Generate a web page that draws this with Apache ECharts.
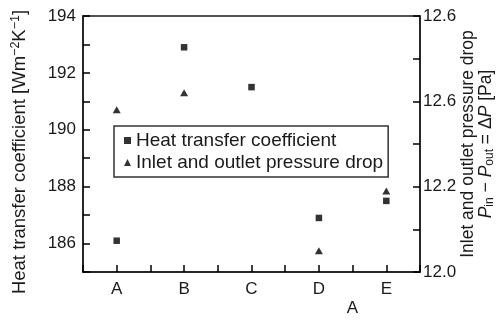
<!DOCTYPE html>
<html>
<head>
<meta charset="utf-8">
<script src="https://cdn.jsdelivr.net/npm/echarts@6/dist/echarts.min.js"></script>
<style>
  html, body { margin: 0; padding: 0; background: #fff; }
  #chart { width: 497px; height: 320px; }
</style>
</head>
<body>
<div id="chart"></div>
<script>
// Samples along the x axis
const categories = ['A', 'B', 'C', 'D', 'E'];
// Heat transfer coefficient, W m^-2 K^-1 (left axis)
const heatTransfer = [186.1, 192.9, 191.5, 186.9, 187.5];
// Inlet/outlet pressure drop, Pa (right axis); no value at C
const pressureDrop = [12.38, 12.42, null, 12.05, 12.19];
// Right-axis tick labels, one per 0.2 Pa step
const rightTickLabels = ['12.0', '12.2', '12.6', '12.6'];

const FONT = '"Liberation Sans", Arial, sans-serif';
const INK = '#1a1a1a';

const chart = echarts.init(document.getElementById('chart'), null, { renderer: 'canvas' });

// x positions are 1..5 on a value axis so ticks can sit both on and between samples
const heatData = heatTransfer.map((v, i) => [i + 1, v]);
const dropData = pressureDrop.map((v, i) => [i + 1, v]);

const axisLineStyle = () => ({ lineStyle: { color: INK, width: 1.5 } });
const tickStyle = () => ({ show: true, inside: true, length: 7, lineStyle: { color: '#000', width: 1.5 } });

chart.setOption({
  animation: false,
  backgroundColor: '#fff',
  textStyle: { fontFamily: FONT },
  grid: {
    left: 83, right: 77, top: 16, bottom: 48,
    containLabel: false,
    outerBoundsMode: 'none',
    show: true, borderColor: INK, borderWidth: 1.5, backgroundColor: 'transparent'
  },
  legend: {
    orient: 'vertical',
    left: 114, top: 126,
    padding: [5, 5, 5, 10],
    itemGap: 3,
    itemWidth: 7, itemHeight: 7,
    borderColor: '#333', borderWidth: 1.5,
    textStyle: { fontFamily: FONT, fontSize: 19, color: INK },
    data: [
      { name: 'Heat transfer coefficient', icon: 'rect' },
      { name: 'Inlet and outlet pressure drop', icon: 'triangle' }
    ]
  },
  xAxis: {
    type: 'value',
    min: 0.5, max: 5.5, interval: 0.5,
    name: 'A',
    nameLocation: 'middle',
    nameGap: 28,
    nameMoveOverlap: false,
    nameTextStyle: { fontFamily: FONT, fontSize: 17, color: INK, padding: [0, 0, 0, 202] },
    axisLine: axisLineStyle(),
    axisTick: tickStyle(),
    splitLine: { show: false },
    axisLabel: {
      fontFamily: FONT, fontSize: 17, color: INK, margin: 9,
      formatter: v => (Number.isInteger(v) ? categories[v - 1] : '')
    }
  },
  yAxis: [
    {
      type: 'value',
      position: 'left',
      min: 185, max: 194, interval: 1,
      name: '{t|Heat transfer coefficient [Wm}{sup|−2}{t|K}{sup|−1}{t|]}',
      nameLocation: 'middle',
      nameGap: 52,
      nameRotate: 90,
      nameMoveOverlap: false,
      nameTextStyle: {
        padding: [0, 16, 0, 0],
        rich: {
          t: { fontFamily: FONT, fontSize: 18.5, color: INK, lineHeight: 22, verticalAlign: 'middle' },
          sup: { fontFamily: FONT, fontSize: 12.5, color: INK, lineHeight: 22, verticalAlign: 'top' }
        }
      },
      axisLine: { show: true, ...axisLineStyle() },
      axisTick: tickStyle(),
      splitLine: { show: false },
      axisLabel: {
        fontFamily: FONT, fontSize: 17, color: INK, margin: 7,
        formatter: v => (v % 2 === 0 ? String(v) : '')
      }
    },
    {
      type: 'value',
      position: 'right',
      min: 12.0, max: 12.6, interval: 0.1,
      name: '{t|Inlet and outlet pressure drop}\n{i|P}{sub|in}{t| − }{i|P}{sub|out}{t| = Δ}{i|P}{t| [Pa]}',
      nameLocation: 'middle',
      nameGap: 40,
      nameRotate: 90,
      nameMoveOverlap: false,
      nameTextStyle: {
        align: 'center',
        rich: {
          t: { fontFamily: FONT, fontSize: 17.5, color: INK, lineHeight: 16, verticalAlign: 'middle' },
          i: { fontFamily: FONT, fontSize: 17.5, fontStyle: 'italic', color: INK, lineHeight: 16, verticalAlign: 'middle' },
          sub: { fontFamily: FONT, fontSize: 12, color: INK, lineHeight: 20, verticalAlign: 'bottom' }
        }
      },
      axisLine: { show: true, ...axisLineStyle() },
      axisTick: tickStyle(),
      splitLine: { show: false },
      axisLabel: {
        fontFamily: FONT, fontSize: 17, color: INK, margin: 3,
        formatter: (v, idx) => (idx % 2 === 0 ? rightTickLabels[idx / 2] : '')
      }
    }
  ],
  series: [
    {
      name: 'Heat transfer coefficient',
      type: 'scatter',
      yAxisIndex: 0,
      symbol: 'rect',
      symbolSize: 6.5,
      itemStyle: { color: '#000' },
      data: heatData
    },
    {
      name: 'Inlet and outlet pressure drop',
      type: 'scatter',
      yAxisIndex: 1,
      symbol: 'triangle',
      symbolSize: [8, 7],
      itemStyle: { color: '#000' },
      data: dropData
    }
  ]
});
</script>
</body>
</html>
